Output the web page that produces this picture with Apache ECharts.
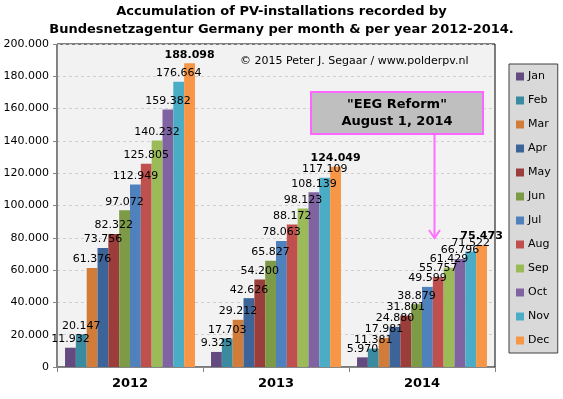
<!DOCTYPE html>
<html>
<head>
<meta charset="utf-8">
<script src="https://cdn.jsdelivr.net/npm/echarts@6/dist/echarts.min.js"></script>
<style>html,body{margin:0;padding:0;background:#fff}#c{width:563px;height:399px}</style>
</head>
<body>
<div id="c"></div>
<script>
var years = ['2012', '2013', '2014'];
var months = ['Jan','Feb','Mar','Apr','May','Jun','Jul','Aug','Sep','Oct','Nov','Dec'];
var jan = [11932, 9325, 5970];
var feb = [20147, 17703, 11381];
var mar = [61376, 29212, 17981];
var apr = [73756, 42626, 24880];
var may = [82322, 54200, 31801];
var jun = [97072, 65827, 38879];
var jul = [112949, 78063, 49599];
var aug = [125805, 88172, 55757];
var sep = [140232, 98123, 61429];
var oct = [159382, 108139, 66796];
var nov = [176664, 117109, 71522];
var dec = [188098, 124049, 75473];
var yTicks = [0, 20000, 40000, 60000, 80000, 100000, 120000, 140000, 160000, 180000, 200000];
var colors = ['#634b80','#3a8aa0','#d27c3a','#3d6499','#9b3d3b','#7d9a47','#4f81bd','#c0504d','#9bbb59','#8064a2','#4bacc6','#f79646'];
var monthData = [jan, feb, mar, apr, may, jun, jul, aug, sep, oct, nov, dec];

function fmt(v) {
  return String(v).replace(/\B(?=(\d{3})+(?!\d))/g, '.');
}
var FONT = 'DejaVu Sans';
var series = months.map(function (m, i) {
  var isDec = i === 11;
  return {
    name: m,
    type: 'bar',
    data: monthData[i],
    itemStyle: { color: colors[i] },
    barGap: '0%',
    barCategoryGap: '11%',
    label: {
      show: true,
      position: 'top',
      distance: 3,
      fontFamily: FONT,
      fontSize: 11,
      fontWeight: isDec ? 'bold' : 'normal',
      color: '#000',
      formatter: function (p) { return fmt(p.value); }
    }
  };
});

var chart = echarts.init(document.getElementById('c'), null, { renderer: 'canvas' });
chart.setOption({
  animation: false,
  textStyle: { fontFamily: FONT },
  title: {
    text: 'Accumulation of PV-installations recorded by\nBundesnetzagentur Germany per month & per year 2012-2014.',
    left: 'center',
    top: 3,
    padding: 0,
    textStyle: { fontFamily: FONT, fontSize: 13, fontWeight: 'bold', color: '#000', lineHeight: 18 }
  },
  legend: {
    orient: 'vertical',
    left: 509,
    top: 64,
    padding: [6, 7, 6, 7],
    itemWidth: 8,
    itemHeight: 8,
    itemGap: 11,
    icon: 'rect',
    backgroundColor: '#d9d9d9',
    borderColor: '#404040',
    borderWidth: 1,
    data: months,
    textStyle: { fontFamily: FONT, fontSize: 11, color: '#000', padding: [0, 0, 0, -1], lineHeight: 13 }
  },
  grid: {
    left: 57, right: 68, top: 44, bottom: 32,
    show: true,
    backgroundColor: '#f2f2f2',
    borderColor: '#000',
    borderWidth: 1
  },
  xAxis: {
    type: 'category',
    data: years,
    axisLine: { lineStyle: { color: '#868686' } },
    axisTick: { show: true, length: 5, lineStyle: { color: '#868686' } },
    axisLabel: { fontFamily: FONT, fontSize: 13, fontWeight: 'bold', color: '#000', margin: 10 }
  },
  yAxis: {
    type: 'value',
    min: yTicks[0],
    max: yTicks[yTicks.length - 1],
    interval: yTicks[1] - yTicks[0],
    axisLine: { show: true, lineStyle: { color: '#868686' } },
    axisTick: { show: true, length: 4, lineStyle: { color: '#868686' } },
    splitLine: { lineStyle: { color: '#d0d0d0', type: [3, 3] } },
    axisLabel: { fontFamily: FONT, fontSize: 11, color: '#000', margin: 8, formatter: function (v) { return fmt(v); } }
  },
  series: series,
  graphic: [
    {
      type: 'text', x: 240, y: 56, z: 10,
      style: { text: '© 2015 Peter J. Segaar / www.polderpv.nl', font: '11px "DejaVu Sans"', fill: '#000' }
    },
    {
      type: 'rect', z: 10,
      shape: { x: 311, y: 92, width: 172, height: 42 },
      style: { fill: '#bfbfbf', stroke: '#ff66ff', lineWidth: 2 }
    },
    {
      type: 'text', z: 11,
      x: 397, y: 113,
      style: { text: '"EEG Reform"\nAugust 1, 2014', font: 'bold 13px "DejaVu Sans"', fill: '#000', align: 'center', verticalAlign: 'middle', lineHeight: 17 }
    },
    {
      type: 'line', z: 11,
      shape: { x1: 434.5, y1: 135, x2: 434.5, y2: 238 },
      style: { stroke: '#ff70ff', lineWidth: 2 }
    },
    {
      type: 'polyline', z: 11,
      shape: { points: [[429, 230], [434.5, 238], [440, 230]] },
      style: { stroke: '#ff70ff', lineWidth: 2, fill: 'none' }
    }
  ]
});
</script>
</body>
</html>
